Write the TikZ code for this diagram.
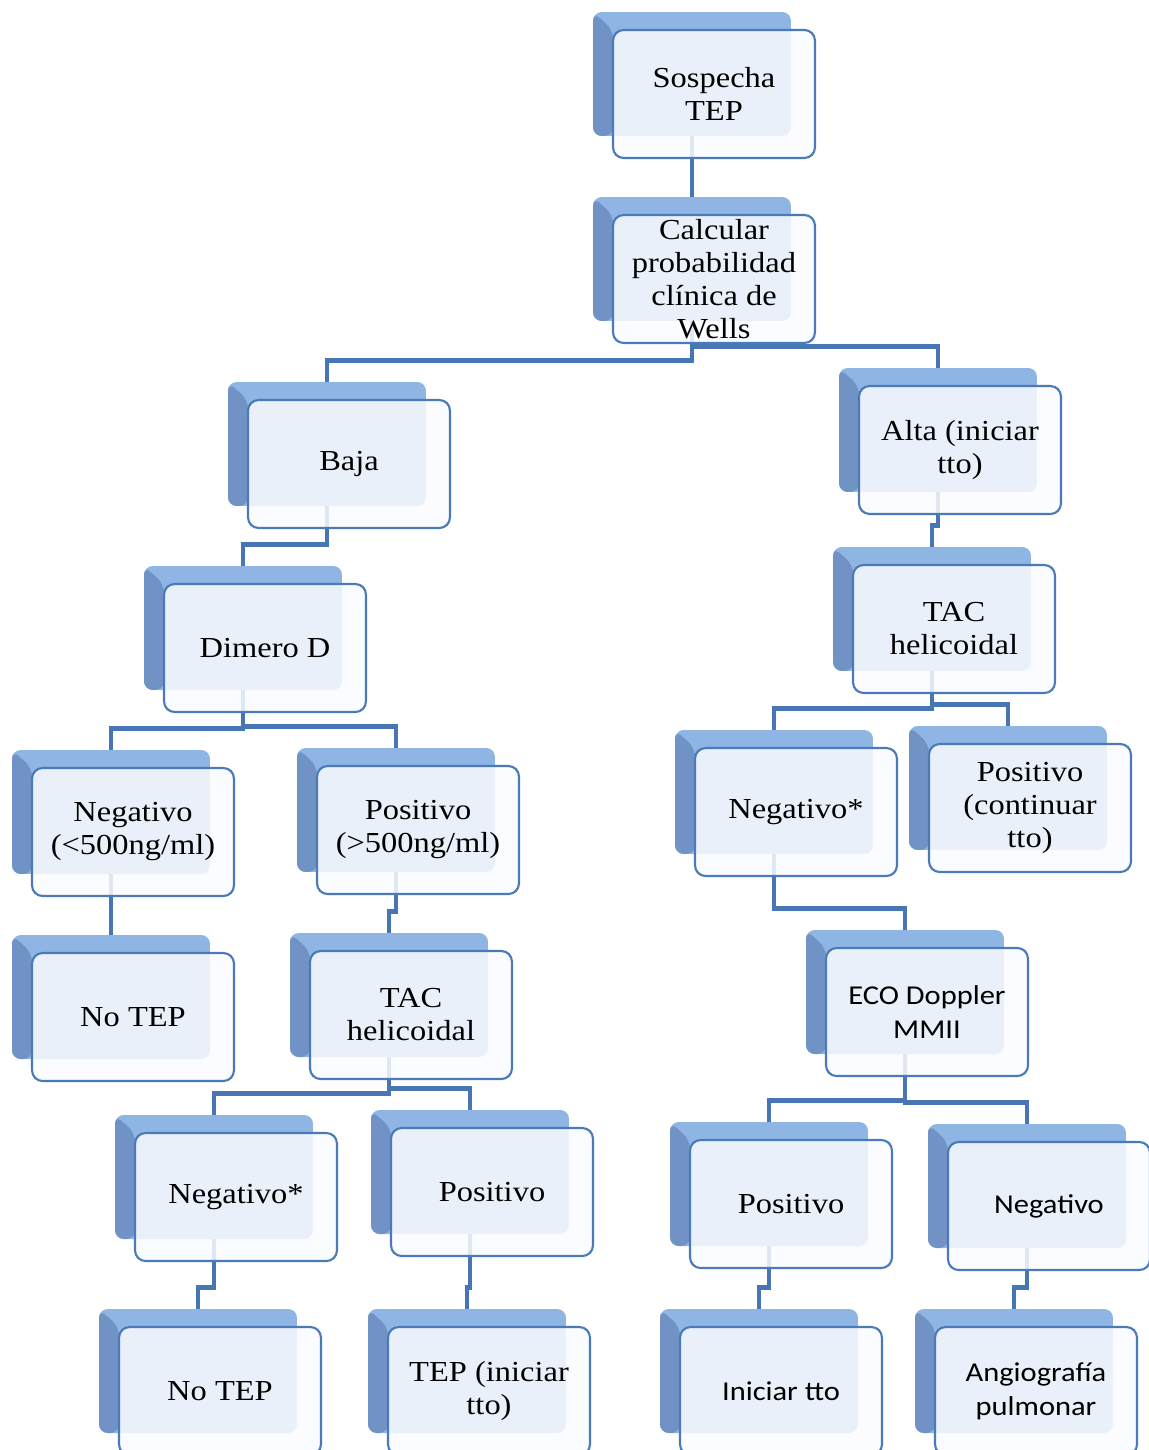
\documentclass[tikz,border=0pt]{standalone}
\usepackage{fontspec}
\setmainfont{Liberation Serif}[FakeStretch=1.12]
\newfontfamily\calfont{Carlito}[FakeStretch=1.12]
\usetikzlibrary{backgrounds}
\definecolor{backlight}{RGB}{143,181,228}
\definecolor{backdark}{RGB}{112,146,197}
\definecolor{frontline}{RGB}{74,122,184}
\definecolor{frontfill}{RGB}{250,251,255}
\definecolor{conblue}{RGB}{72,117,180}
\newcommand{\tepfont}{\fontsize{16.5}{18.8}\selectfont}
\newcommand{\calsize}{\calfont\fontsize{15.5}{19.4}\selectfont}
% box = blue back plate + light front card
\newcommand{\tepnode}[5][]{%
  \node[back] (b#2) at (#3,#4) {};
  \node[front,#1] (#2) at ([xshift=.44cm,yshift=-.4cm]b#2.center) {#5};}
\newcommand{\tepline}[2]{\draw[con] (b#1.south) |- ([yshift=.42cm]b#2.north) -- (b#2.north);}

\begin{document}
\begin{tikzpicture}[x=0.02cm, y=-0.02cm,
  back/.style={rounded corners=5pt, fill=backlight, inner sep=0pt,
    minimum width=3.96cm, minimum height=2.48cm,
    path picture={\fill[backdark] (path picture bounding box.north west) -- ++(0.4cm,-0.36cm)
      |- (path picture bounding box.south west) -- cycle;}},
  front/.style={draw=frontline, line width=1.2pt, rounded corners=6pt, fill=frontfill,
    fill opacity=0.85, text opacity=1, minimum width=4.04cm, minimum height=2.56cm,
    inner sep=2pt, align=center, font=\tepfont},
  sans/.style={font=\calsize},
  con/.style={draw=conblue, line width=2.7pt}]
 \useasboundingbox (0,0) rectangle (1149,1450);
 % top
 \tepnode{sosp}{692}{74}{Sospecha\\TEP}
 \tepnode{calc}{692}{259}{Calcular\\probabilidad\\clínica de\\Wells}
 % low probability branch
 \tepnode{baja}{327}{444}{Baja}
 \tepnode{dim}{243}{628}{Dimero D}
 \tepnode{negA}{111}{812}{Negativo\\(<500ng/ml)}
 \tepnode{posA}{396}{810}{Positivo\\(>500ng/ml)}
 \tepnode{notepA}{111}{997}{No TEP}
 \tepnode{tacA}{389}{995}{TAC\\helicoidal}
 \tepnode{negB}{214}{1177}{Negativo*}
 \tepnode{posB}{470}{1172}{Positivo}
 \tepnode{notepB}{198}{1371}{No TEP}
 \tepnode{tepini}{467}{1371}{TEP (iniciar\\tto)}
 % high probability branch
 \tepnode{alta}{938}{430}{Alta (iniciar\\tto)}
 \tepnode{tacB}{932}{609}{TAC\\helicoidal}
 \tepnode{negC}{774}{792}{Negativo*}
 \tepnode{posC}{1008}{788}{Positivo\\(continuar\\tto)}
 \tepnode[sans]{eco}{905}{992}{ECO Doppler\\MMII}
 \tepnode{posD}{769}{1184}{Positivo}
 \tepnode[sans]{negD}{1027}{1186}{Negativo}
 \tepnode[sans]{inicio}{759}{1371}{Iniciar tto}
 \tepnode[sans]{angio}{1014}{1371}{Angiografía\\pulmonar}
 % connectors
 \begin{pgfonlayer}{background}
  \tepline{sosp}{calc}
  \tepline{calc}{baja} \tepline{calc}{alta}
  \tepline{baja}{dim} \tepline{alta}{tacB}
  \tepline{dim}{negA} \tepline{dim}{posA}
  \tepline{tacB}{negC} \tepline{tacB}{posC}
  \tepline{negA}{notepA} \tepline{posA}{tacA} \tepline{negC}{eco}
  \tepline{tacA}{negB} \tepline{tacA}{posB}
  \tepline{eco}{posD} \tepline{eco}{negD}
  \tepline{negB}{notepB} \tepline{posB}{tepini}
  \tepline{posD}{inicio} \tepline{negD}{angio}
 \end{pgfonlayer}
\end{tikzpicture}
\end{document}
